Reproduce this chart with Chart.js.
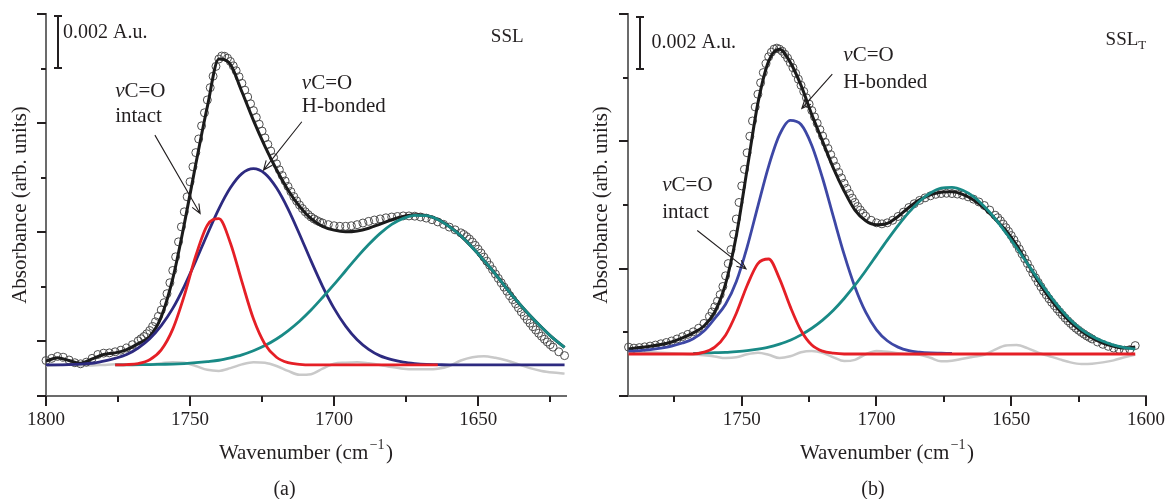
<!DOCTYPE html>
<html>
<head>
  <meta charset="utf-8">
  <title>SSL / SSL_T carbonyl band deconvolution</title>
  <style>
    html, body { margin: 0; padding: 0; background: #fff; overflow: hidden; }
    #wrap { position: relative; width: 1165px; height: 499px; }
    #wrap canvas { position: absolute; left: 0; top: 0; }
  </style>
</head>
<body>
  <div id="wrap">
    <canvas id="chartA" width="1165" height="499"></canvas>
    <canvas id="chartB" width="1200" height="499"></canvas>
  </div>

  <script src="https://cdn.jsdelivr.net/npm/chart.js"></script>
  <script>
    // ---- panel (a): SSL ----
    const waveA = [1800,1796,1792,1788,1784,1780,1776,1772,1768,1764,1760,1756,1752,1748,1744,1740,1736,1732,1728,1724,1720,1716,1712,1708,1704,1700,1696,1692,1688,1684,1680,1676,1672,1668,1664,1660,1656,1652,1648,1644,1640,1636,1632,1628,1624,1620];
    const fitA = [1.28,1.40,1.30,1.20,1.36,1.52,1.58,1.70, 1.92,2.18,2.90,4.30,6.30,8.50,10.60,12.35, 12.15,11.15,10.10,9.15,8.30,7.55,6.95,6.50, 6.22,6.08,6.02,6.05,6.15,6.30,6.46,6.58, 6.64,6.61,6.47,6.21,5.87,5.44,4.97,4.47, 3.93,3.42,2.95,2.52,2.12,1.78];
    const intactA = [null,null,null,null,null,null,1.14,1.15, 1.19,1.33,1.69,2.45,3.68,5.14,6.26,6.50, 5.61,4.19,2.83,1.90,1.42,1.22,1.16,1.14, 1.14,1.14,1.14,1.14,1.14,1.14,1.14,1.14, 1.14,1.14,1.14,null,null,null,null,null, null,null,null,null,null,null];
    const hbondA = [1.14,1.14,1.15,1.17,1.20,1.28,1.38,1.52, 1.76,2.10,2.58,3.21,4.02,4.95,5.93,6.86, 7.63,8.15,8.33,8.15,7.63,6.86,5.93,4.95, 4.02,3.21,2.56,2.06,1.71,1.47,1.33,1.24, 1.19,1.16,1.15,1.14,1.14,1.14,1.14,1.14, 1.14,1.14,1.14,1.14,1.14,1.14];
    const bandA = [null,null,null,null,null,null,1.14,1.14, 1.15,1.15,1.16,1.17,1.19,1.22,1.26,1.31, 1.40,1.51,1.66,1.85,2.09,2.39,2.74,3.15, 3.61,4.09,4.59,5.09,5.55,5.96,6.29,6.51, 6.62,6.61,6.47,6.21,5.87,5.44,4.97,4.47, 3.93,3.42,2.95,2.52,2.12,1.78];
    const residA = [1.10,1.14,1.16,1.12,1.12,1.14,1.16,1.15, 1.14,1.16,1.20,1.24,1.22,1.10,0.96,0.92, 1.02,1.16,1.24,1.22,1.10,0.92,0.78,0.80, 1.00,1.18,1.22,1.24,1.20,1.14,1.06,1.00, 0.98,0.98,1.00,1.10,1.30,1.42,1.46,1.40, 1.30,1.16,1.02,0.92,0.86,0.82];
    const pointsA = [
      [1800,1.30],[1798,1.38],[1796,1.45],[1794,1.42],[1792,1.32],[1790,1.22],[1788,1.18],[1786,1.24],
      [1784,1.38],[1782,1.52],[1780,1.57],[1778,1.58],[1776,1.62],[1774,1.68],[1772,1.76],[1770,1.88],
      [1768,2.02],[1767,2.10],[1766,2.18],[1765,2.28],[1764,2.40],[1763,2.55],[1762,2.72],[1761,2.92],
      [1760,3.15],[1759,3.42],[1758,3.75],[1757,4.15],[1756,4.60],[1755,5.10],[1754,5.65],[1753,6.20],
      [1752,6.75],[1751,7.30],[1750,7.85],[1749,8.40],[1748,8.92],[1747,9.42],[1746,9.90],[1745,10.38],
      [1744,10.85],[1743,11.30],[1742,11.72],[1741,12.08],[1740,12.35],[1739,12.46],[1738,12.45],
      [1737,12.38],[1736,12.26],[1735,12.10],[1734,11.92],[1733,11.70],[1732,11.46],[1731,11.21],[1730,10.96],
      [1729,10.71],[1728,10.46],[1727,10.21],[1726,9.96],[1725,9.71],[1724,9.46],[1723,9.22],[1722,8.98],
      [1721,8.74],[1720,8.51],[1719,8.29],[1718,8.08],[1717,7.88],[1716,7.68],[1715,7.49],[1714,7.31],
      [1713,7.15],[1712,7.00],[1711,6.87],[1710,6.75],[1709,6.65],[1708,6.56],[1707,6.49],[1706,6.43],
      [1705,6.38],[1704,6.34],[1702,6.28],[1700,6.24],[1698,6.22],[1696,6.22],[1694,6.24],[1692,6.28],
      [1690,6.34],[1688,6.40],[1686,6.45],[1684,6.49],[1682,6.53],[1680,6.56],[1678,6.58],[1676,6.60],
      [1674,6.60],[1672,6.59],[1670,6.56],[1668,6.52],[1666,6.46],[1664,6.38],[1662,6.29],[1660,6.19],
      [1658,6.09],[1656,5.98],[1655,5.92],[1654,5.84],[1653,5.75],[1652,5.64],[1651,5.52],[1650,5.38],
      [1649,5.24],[1648,5.09],[1647,4.94],[1646,4.79],[1645,4.63],[1644,4.47],[1643,4.31],[1642,4.15],
      [1641,3.99],[1640,3.84],[1639,3.68],[1638,3.53],[1637,3.38],[1636,3.23],[1635,3.08],[1634,2.94],
      [1633,2.80],[1632,2.67],[1631,2.54],[1630,2.42],[1629,2.30],[1628,2.19],[1627,2.08],[1626,1.98],
      [1625,1.88],[1624,1.79],[1622,1.62],[1620,1.48]
    ];
    const xTicksA = [1800, 1750, 1700, 1650];
    const xMinorA = [1775, 1725, 1675, 1625];
    const yLongA = [0, 2, 6, 10, 14];
    const yShortA = [4, 8, 12];

    // ---- panel (b): SSL_T ----
    const waveB = [1792,1788,1784,1780,1776,1772,1768,1764,1760,1756,1752,1748,1744,1740,1736,1732,1728,1724,1720,1716,1712,1708,1704,1700,1696,1692,1688,1684,1680,1676,1672,1668,1664,1660,1656,1652,1648,1644,1640,1636,1632,1628,1624,1620,1616,1612,1608,1604];
    const fitB = [1.85,1.90,1.95,2.02,2.12,2.28,2.48,2.75, 3.30,4.40,6.30,8.90,11.50,13.15,13.62,13.10, 12.20,11.05,10.00,8.95,8.05,7.30,6.88,6.72, 6.78,7.05,7.40,7.70,7.90,8.00,8.02,7.92, 7.70,7.38,6.95,6.50,5.92,5.20,4.50,3.88, 3.35,2.90,2.55,2.28,2.08,1.95,1.88,1.92];
    const intactB = [1.65,1.65,1.65,1.65,1.65,1.65,1.65,1.72, 1.92,2.39,3.25,4.34,5.20,5.38,4.61,3.51, 2.57,2.00,1.76,1.68,1.65,1.65,1.65,1.65, 1.65,1.65,1.65,1.65,1.65,1.65,1.65,1.65, 1.65,1.65,1.65,1.65,1.65,1.65,1.65,1.65, 1.65,1.65,1.65,1.65,1.65,1.65,1.65,1.65];
    const hbondB = [1.76,1.78,1.82,1.88,1.96,2.08,2.25,2.55, 3.05,3.60,4.50,5.85,7.46,9.03,10.25,10.82, 10.66,9.84,8.55,7.04,5.56,4.28,3.29,2.60, 2.17,1.92,1.78,1.72,1.69,1.68,1.67,null, null,null,null,null,null,null,null,null, null,null,null,null,null,null,null,null];
    const bandB = [null,null,null,null,null,null,1.67,1.69, 1.70,1.71,1.74,1.78,1.84,1.92,2.04,2.19, 2.40,2.66,2.98,3.37,3.83,4.35,4.92,5.52, 6.12,6.69,7.21,7.65,7.97,8.16,8.19,8.08, 7.83,7.44,6.97,6.41,5.82,5.20,4.58,3.99, 3.45,2.98,2.62,2.35,2.15,2.00,1.90,1.84];
    const residB = [1.70,1.72,1.72,1.70,1.68,1.66,1.64,1.60, 1.55,1.49,1.52,1.64,1.70,1.62,1.49,1.56, 1.72,1.77,1.70,1.52,1.37,1.42,1.64,1.77, 1.74,1.68,1.64,1.62,1.50,1.36,1.38,1.46, 1.54,1.62,1.82,1.98,2.00,1.88,1.70,1.57, 1.44,1.32,1.26,1.27,1.32,1.40,1.52,1.63];
    const pointsB = [
      [1792,1.92],[1790,1.88],[1788,1.90],[1786,1.93],[1784,1.96],[1782,2.00],[1780,2.05],[1778,2.10],
      [1776,2.16],[1774,2.24],[1772,2.33],[1770,2.42],[1768,2.52],[1766,2.66],[1764,2.85],[1762,3.12],
      [1761,3.30],[1760,3.50],[1759,3.72],[1758,3.98],[1757,4.30],[1756,4.72],[1755,5.20],[1754,5.75],
      [1753,6.35],[1752,6.95],[1751,7.60],[1750,8.25],[1749,8.90],[1748,9.55],[1747,10.20],[1746,10.80],
      [1745,11.35],[1744,11.85],[1743,12.30],[1742,12.70],[1741,13.05],[1740,13.32],[1739,13.50],[1738,13.62],
      [1737,13.66],[1736,13.62],[1735,13.54],[1734,13.42],[1733,13.27],[1732,13.09],[1731,12.89],[1730,12.67],
      [1729,12.44],[1728,12.20],[1727,11.96],[1726,11.71],[1725,11.46],[1724,11.21],[1723,10.96],[1722,10.71],
      [1721,10.46],[1720,10.21],[1719,9.96],[1718,9.72],[1717,9.48],[1716,9.24],[1715,9.01],[1714,8.78],
      [1713,8.56],[1712,8.35],[1711,8.15],[1710,7.95],[1709,7.77],[1708,7.60],[1707,7.44],[1706,7.30],
      [1705,7.17],[1704,7.06],[1702,6.90],[1700,6.80],[1698,6.76],[1696,6.80],[1694,6.90],[1692,7.05],
      [1690,7.22],[1688,7.40],[1686,7.55],[1684,7.68],[1682,7.78],[1680,7.86],[1678,7.92],[1676,7.95],
      [1674,7.96],[1672,7.95],[1670,7.93],[1668,7.89],[1666,7.82],[1664,7.73],[1662,7.62],[1660,7.48],
      [1658,7.30],[1656,7.10],[1655,7.00],[1654,6.88],[1653,6.75],[1652,6.61],[1651,6.46],[1650,6.30],
      [1649,6.13],[1648,5.95],[1647,5.77],[1646,5.58],[1645,5.39],[1644,5.20],[1643,5.01],[1642,4.82],
      [1641,4.64],[1640,4.46],[1639,4.29],[1638,4.12],[1637,3.97],[1636,3.82],[1635,3.68],[1634,3.55],
      [1633,3.42],[1632,3.30],[1631,3.18],[1630,3.06],[1629,2.95],[1628,2.85],[1627,2.75],[1626,2.66],
      [1625,2.58],[1624,2.50],[1623,2.43],[1622,2.36],[1621,2.30],[1620,2.24],[1618,2.12],[1616,2.03],
      [1614,1.95],[1612,1.88],[1610,1.83],[1608,1.80],[1606,1.82],[1604,1.98]
    ];
    const xTicksB = [1750, 1700, 1650, 1600];
    const xMinorB = [1775, 1725, 1675, 1625];
    const yLongB = [0, 5, 10, 15];
    const yShortB = [2.5, 7.5, 12.5];

    const SERIF = '"Liberation Serif", "Times New Roman", serif';
    const INK = '#231f20';
    const AXIS = '#6b6b6b';

    const panels = [
      {
        canvas: 'chartA', pad: [46, 599], xRange: [1619.5, 1800], yRange: [0, 14],
        wave: waveA, fit: fitA, intact: intactA, hbond: hbondA, band: bandA, resid: residA, points: pointsA,
        hbondColor: '#2d2a80',
        xTicks: xTicksA, xMinor: xMinorA, yLong: yLongA, yShort: yShortA,
        bar: [1795.7, 12.03, 13.93], barText: [1794.1, 13.3],
        name: {text: 'SSL', sub: '', at: [1645.6, 13.16]},
        intactNote: [1776.0, 11.15, 10.23], intactArrow: [1762.2, 9.56, 1746.5, 6.69],
        hbondNote: [1711.2, 11.45, 10.6], hbondArrow: [1711.2, 10.05, 1724.5, 8.28],
        tag: '(a)', tagX: 284.5, yTitleOff: 25.5
      },
      {
        canvas: 'chartB', pad: [628, 54], xRange: [1600, 1792.2], yRange: [0, 15],
        wave: waveB, fit: fitB, intact: intactB, hbond: hbondB, band: bandB, resid: residB, points: pointsB,
        hbondColor: '#3d47a5',
        xTicks: xTicksB, xMinor: xMinorB, yLong: yLongB, yShort: yShortB,
        bar: [1787.7, 12.83, 14.89], barText: [1783.5, 13.87],
        name: {text: 'SSL', sub: 'T', at: [1615.0, 13.98]},
        intactNote: [1779.5, 8.27, 7.22], intactArrow: [1766.5, 6.50, 1748.4, 4.99],
        hbondNote: [1712.3, 13.39, 12.33], hbondArrow: [1716.4, 12.64, 1727.7, 11.29],
        tag: '(b)', tagX: 873, yTitleOff: 26.4
      }
    ];

    function lineSet(label, wave, values, color, width, order) {
      return {
        label: label,
        order: order,
        data: wave.map((x, i) => ({x: x, y: values[i]})).filter(pt => pt.y !== null && pt.y !== undefined),
        borderColor: color,
        borderWidth: width,
        pointRadius: 0,
        fill: false,
        cubicInterpolationMode: 'monotone'
      };
    }

    // ticks, scale bar, labels and arrows drawn on top of the plot
    function notesPlugin(p) {
      return {
        id: 'notes',
        afterDraw(chart) {
          const ctx = chart.ctx;
          const a = chart.chartArea;
          const X = v => chart.scales.x.getPixelForValue(v);
          const Y = v => chart.scales.y.getPixelForValue(v);
          ctx.save();
          ctx.strokeStyle = INK;
          ctx.fillStyle = INK;

          ctx.lineWidth = 2;
          ctx.beginPath();
          p.yLong.forEach(v => { const py = Math.round(Y(v)); ctx.moveTo(a.left - 9, py); ctx.lineTo(a.left, py); });
          p.yShort.forEach(v => { const py = Math.round(Y(v)); ctx.moveTo(a.left - 5, py); ctx.lineTo(a.left, py); });
          p.xTicks.forEach(v => { const px = Math.round(X(v)); ctx.moveTo(px, a.bottom); ctx.lineTo(px, a.bottom + 10); });
          p.xMinor.forEach(v => { const px = Math.round(X(v)); ctx.moveTo(px, a.bottom); ctx.lineTo(px, a.bottom + 6); });
          ctx.stroke();

          // 0.002 A.u. scale bar
          const bx = Math.round(X(p.bar[0])), b0 = Math.round(Y(p.bar[1])), b1 = Math.round(Y(p.bar[2]));
          ctx.beginPath();
          ctx.moveTo(bx, b0); ctx.lineTo(bx, b1);
          ctx.moveTo(bx - 4, b0); ctx.lineTo(bx + 4, b0);
          ctx.moveTo(bx - 4, b1); ctx.lineTo(bx + 4, b1);
          ctx.stroke();

          ctx.textBaseline = 'middle';
          ctx.textAlign = 'left';
          ctx.font = '20px ' + SERIF;
          ctx.fillText('0.002 A.u.', X(p.barText[0]), Y(p.barText[1]));

          ctx.font = '19px ' + SERIF;
          const nx = X(p.name.at[0]), ny = Y(p.name.at[1]);
          ctx.fillText(p.name.text, nx, ny);
          if (p.name.sub) {
            const w = ctx.measureText(p.name.text).width;
            ctx.font = '13px ' + SERIF;
            ctx.fillText(p.name.sub, nx + w, ny + 6);
          }

          function nuLabel(x, y) {
            ctx.font = 'italic 21px ' + SERIF;
            ctx.fillText('ν', x, y);
            const w = ctx.measureText('ν').width;
            ctx.font = '21px ' + SERIF;
            ctx.fillText('C=O', x + w, y);
          }
          function arrow(x0, y0, x1, y1) {
            ctx.lineWidth = 1.1;
            ctx.beginPath();
            ctx.moveTo(x0, y0); ctx.lineTo(x1, y1);
            const ang = Math.atan2(y1 - y0, x1 - x0), h = 10, s = 0.4;
            ctx.moveTo(x1 - h * Math.cos(ang - s), y1 - h * Math.sin(ang - s));
            ctx.lineTo(x1, y1);
            ctx.lineTo(x1 - h * Math.cos(ang + s), y1 - h * Math.sin(ang + s));
            ctx.stroke();
          }

          nuLabel(X(p.intactNote[0]), Y(p.intactNote[1]));
          ctx.font = '21px ' + SERIF;
          ctx.fillText('intact', X(p.intactNote[0]), Y(p.intactNote[2]));
          arrow(X(p.intactArrow[0]), Y(p.intactArrow[1]), X(p.intactArrow[2]), Y(p.intactArrow[3]));

          nuLabel(X(p.hbondNote[0]), Y(p.hbondNote[1]));
          ctx.font = '21px ' + SERIF;
          ctx.fillText('H-bonded', X(p.hbondNote[0]), Y(p.hbondNote[2]));
          arrow(X(p.hbondArrow[0]), Y(p.hbondArrow[1]), X(p.hbondArrow[2]), Y(p.hbondArrow[3]));

          // x axis title with superscript
          const cx = (a.left + a.right) / 2, ty = a.bottom + 57;
          ctx.font = '21px ' + SERIF;
          const w1 = ctx.measureText('Wavenumber (cm').width, w3 = ctx.measureText(')').width;
          ctx.font = '14px ' + SERIF;
          const w2 = ctx.measureText('−1').width;
          const tx = cx - (w1 + w2 + w3 + 3) / 2;
          ctx.font = '21px ' + SERIF;
          ctx.fillText('Wavenumber (cm', tx, ty);
          ctx.fillText(')', tx + w1 + w2 + 3, ty);
          ctx.font = '14px ' + SERIF;
          ctx.fillText('−1', tx + w1 + 1.5, ty - 8);

          // y axis title
          ctx.save();
          ctx.translate(a.left - p.yTitleOff, (a.top + a.bottom) / 2);
          ctx.rotate(-Math.PI / 2);
          ctx.textAlign = 'center';
          ctx.font = '21px ' + SERIF;
          ctx.fillText('Absorbance (arb. units)', 0, 0);
          ctx.restore();

          ctx.textAlign = 'center';
          ctx.font = '20px ' + SERIF;
          ctx.fillText(p.tag, p.tagX, a.bottom + 94);
          ctx.restore();
        }
      };
    }

    panels.forEach(p => {
      new Chart(document.getElementById(p.canvas), {
        type: 'line',
        data: {
          datasets: [
            lineSet('νC=O intact', p.wave, p.intact, '#e51f26', 2.8, 1),
            lineSet('third band', p.wave, p.band, '#198a86', 2.8, 2),
            lineSet('νC=O H-bonded', p.wave, p.hbond, p.hbondColor, 2.8, 3),
            lineSet('fit', p.wave, p.fit, '#1b1b1b', 3, 4),
            {
              label: 'measured',
              order: 5,
              data: p.points.map(pt => ({x: pt[0], y: pt[1]})),
              showLine: false,
              pointRadius: 4,
              pointBorderWidth: 1,
              pointBorderColor: '#4d4d4d',
              pointBackgroundColor: 'rgba(0,0,0,0)',
              clip: false
            },
            lineSet('residual', p.wave, p.resid, '#c9c9c9', 2.5, 6)
          ]
        },
        options: {
          responsive: false,
          animation: false,
          devicePixelRatio: 1,
          events: [],
          layout: { padding: { left: p.pad[0], right: p.pad[1], top: 14, bottom: 0 } },
          plugins: { legend: { display: false }, tooltip: { enabled: false } },
          scales: {
            x: {
              type: 'linear',
              reverse: true,
              min: p.xRange[0],
              max: p.xRange[1],
              grid: { display: false, drawTicks: false },
              border: { display: true, color: AXIS, width: 2 },
              ticks: {
                font: { family: SERIF, size: 19 },
                color: INK,
                padding: 13,
                maxRotation: 0,
                autoSkip: false,
                callback: v => String(v)
              },
              afterBuildTicks: s => { s.ticks = p.xTicks.map(v => ({ value: v })); },
              afterFit: s => { s.height = 103; }
            },
            y: {
              type: 'linear',
              min: p.yRange[0],
              max: p.yRange[1],
              grid: { display: false, drawTicks: false },
              border: { display: true, color: AXIS, width: 2 },
              ticks: { display: false },
              afterFit: s => { s.width = 0; }
            }
          }
        },
        plugins: [notesPlugin(p)]
      });
    });
  </script>
</body>
</html>
